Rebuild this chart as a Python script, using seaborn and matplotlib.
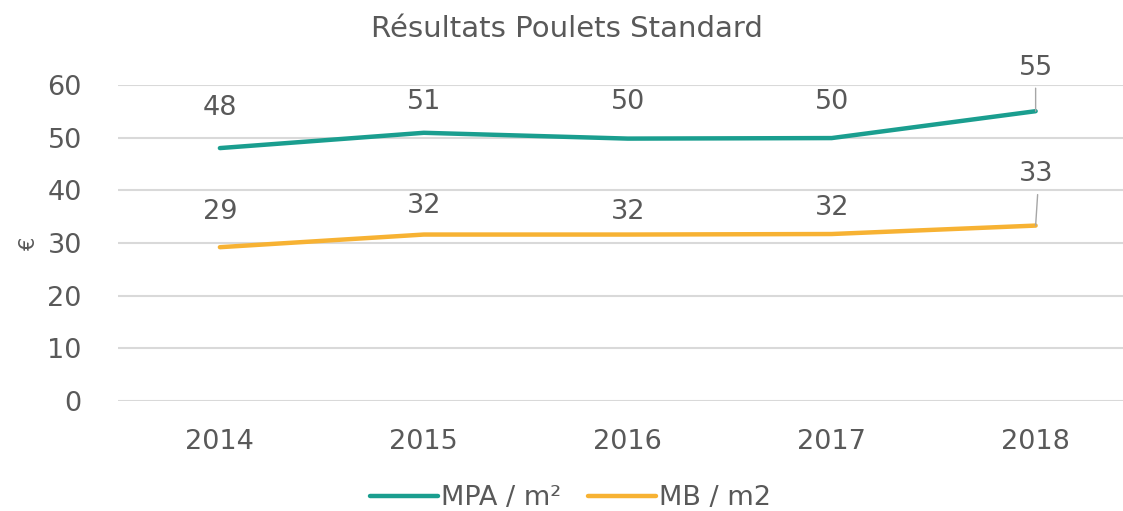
import matplotlib
matplotlib.use("Agg")
import matplotlib.pyplot as plt
import seaborn as sns
import pandas as pd

years = ["2014", "2015", "2016", "2017", "2018"]
mpa = [48.0, 50.9, 49.8, 49.9, 55.0]
mb = [29.2, 31.6, 31.6, 31.7, 33.3]
mpa_labels = ["48", "51", "50", "50", "55"]
mb_labels = ["29", "32", "32", "32", "33"]
series_names = ["MPA / m²", "MB / m2"]
yticks = [0, 10, 20, 30, 40, 50, 60]

df = pd.DataFrame({
    "year": years * 2,
    "value": mpa + mb,
    "series": [series_names[0]] * len(years) + [series_names[1]] * len(years),
})

sns.set_theme(style="white")
plt.rcParams["font.family"] = ["DejaVu Sans"]
TXT = "#595959"
FS = 19.5
colors = {series_names[0]: "#1A9E8F", series_names[1]: "#F7B233"}

fig = plt.figure(figsize=(11.23, 5.11), dpi=100)
ax = fig.add_axes([0.105, 0.215, 0.908, 0.619])
sns.lineplot(data=df, x="year", y="value", hue="series", palette=colors,
             linewidth=3.2, ax=ax, sort=False, legend=True)

ax.set_xlim(-0.5, 4.5)
ax.set_ylim(0, 60)
ax.set_yticks(yticks)
ax.grid(axis="y", color="#D9D9D9", linewidth=1.5)
ax.set_axisbelow(True)
for s in ax.spines.values():
    s.set_visible(False)
ax.tick_params(axis="both", colors=TXT, labelsize=FS, length=0)
ax.tick_params(axis="x", pad=20)
ax.tick_params(axis="y", pad=26)
ax.set_xlabel("")
ax.set_ylabel("€", color=TXT, fontsize=15, labelpad=6)

# data labels (pixel offsets are styling)
mpa_off = [40, 31, 37, 36, 43]
mb_off = [35, 29, 23, 26, 52]
for i, (v, lab, off) in enumerate(zip(mpa, mpa_labels, mpa_off)):
    ax.annotate(lab, (i, v), xytext=(0, off), textcoords="offset pixels",
                ha="center", va="center", fontsize=FS, color=TXT)
for i, (v, lab, off) in enumerate(zip(mb, mb_labels, mb_off)):
    ax.annotate(lab, (i, v), xytext=(0, off), textcoords="offset pixels",
                ha="center", va="center", fontsize=FS, color=TXT)
# leader lines for last points
ax.annotate("", (4, mpa[-1]), xytext=(0, 23), textcoords="offset pixels",
            arrowprops=dict(arrowstyle="-", color="#A6A6A6", lw=1, shrinkA=0, shrinkB=0))
ax.annotate("", (4, mb[-1]), xytext=(2, 31), textcoords="offset pixels",
            arrowprops=dict(arrowstyle="-", color="#A6A6A6", lw=1, shrinkA=0, shrinkB=0))

fig.text(0.505, 0.943, "Résultats Poulets Standard", ha="center", va="center",
         fontsize=21, color=TXT)

h, l = ax.get_legend_handles_labels()
ax.legend_.remove()
fig.legend(h, l, loc="center", bbox_to_anchor=(0.508, 0.025), ncol=2, frameon=False,
           fontsize=FS, labelcolor=TXT, handlelength=2.5, handletextpad=0.1,
           columnspacing=1.0)

fig.savefig("out.png", dpi=100)
